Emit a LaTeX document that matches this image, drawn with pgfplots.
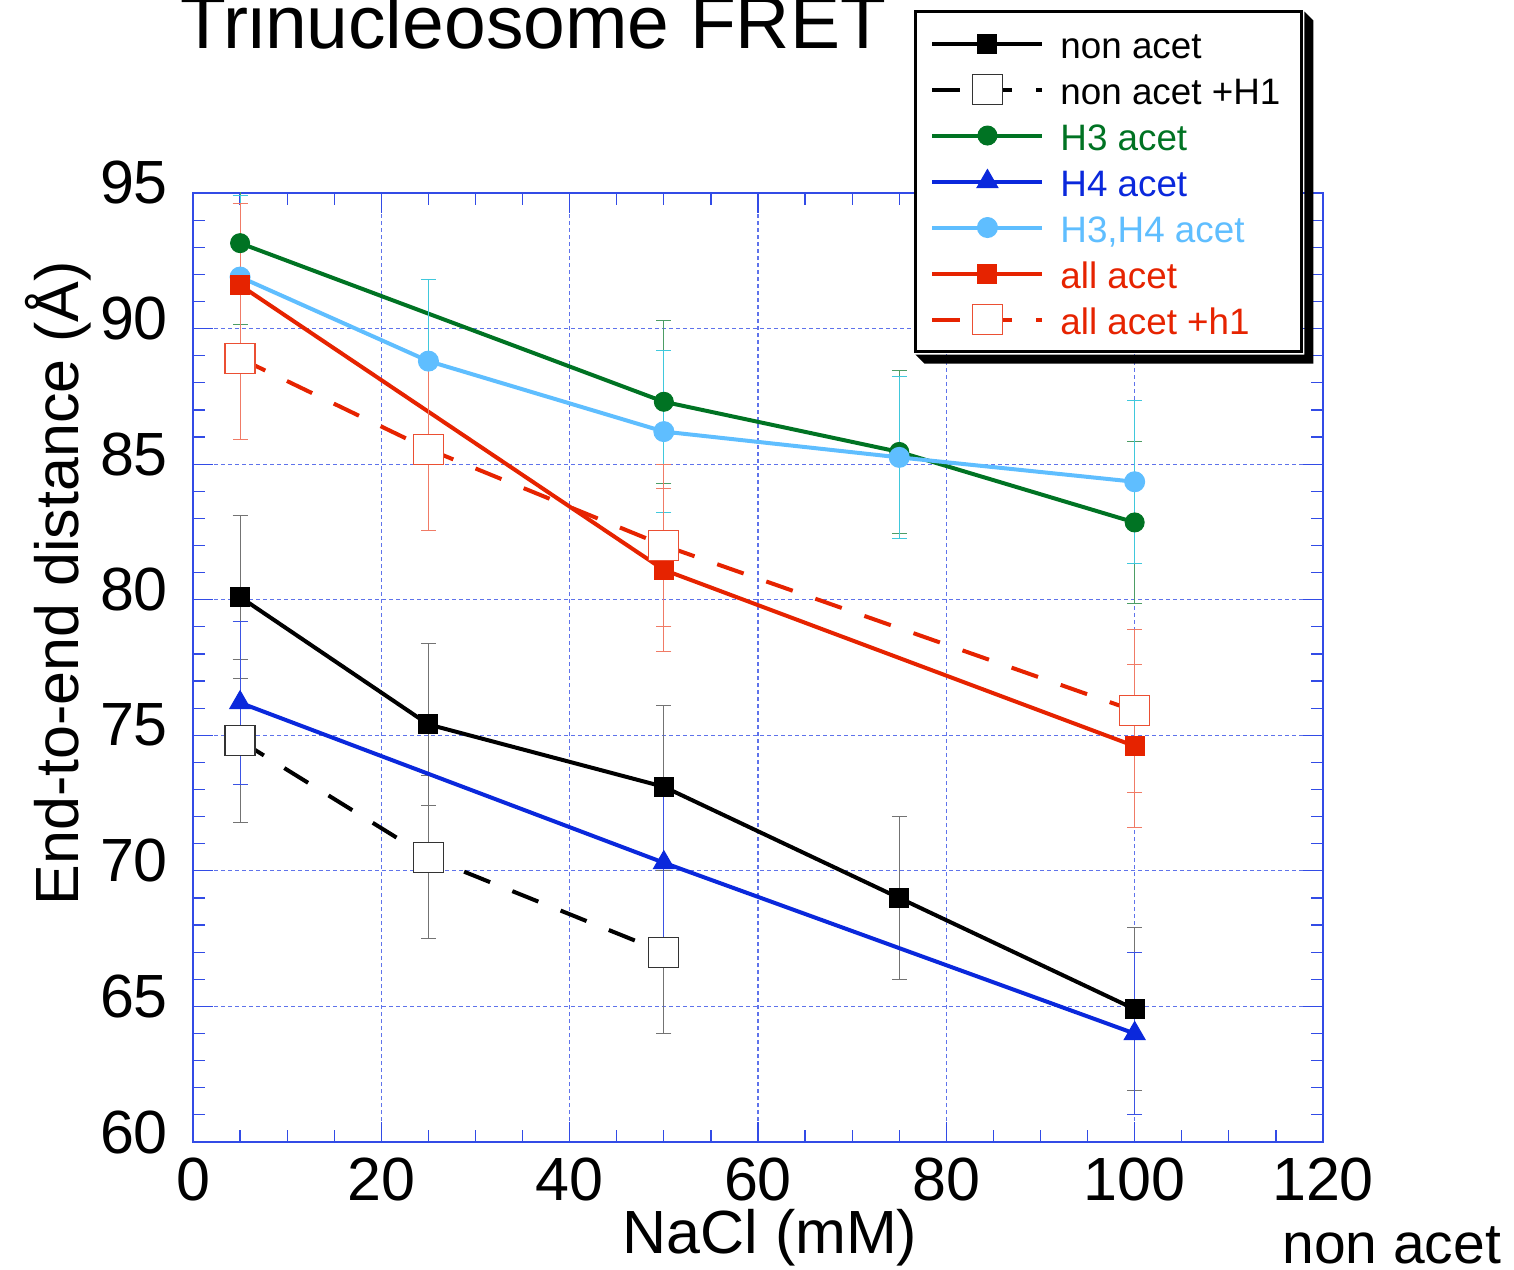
\documentclass[border=0pt]{standalone}
\usepackage{pgfplots}
\pgfplotsset{compat=1.18}
\usepackage{pgfplotstable}
\usepackage{fontspec}
\setmainfont{Liberation Sans}
\definecolor{cgreen}{RGB}{0,115,35}
\definecolor{cblue}{RGB}{10,40,220}
\definecolor{clblue}{RGB}{95,190,255}
\definecolor{cred}{RGB}{230,35,0}
\definecolor{ccyan}{RGB}{64,200,220}
\definecolor{axblue}{RGB}{50,75,230}
\definecolor{gridblue}{RGB}{95,115,235}

\pgfplotstableread{
x y e
5 80.1 3
25 75.4 3
50 73.1 3
75 69.0 3
100 64.9 3
}\nonacet
\pgfplotstableread{
x y e
5 74.8 3
25 70.5 3
50 67.0 3
}\nonacetH
\pgfplotstableread{
x y e
5 93.15 3
50 87.3 3
75 85.45 3
100 82.85 3
}\hthree
\pgfplotstableread{
x y e
5 76.2 3
50 70.3 3
100 64.0 3
}\hfour
\pgfplotstableread{
x y e
5 91.9 3
25 88.8 3
50 86.2 3
75 85.25 3
100 84.35 3
}\hboth
\pgfplotstableread{
x y e
5 91.6 3
50 81.1 3
100 74.6 3
}\allacet
\pgfplotstableread{
x y e
5 88.9 3
25 85.55 3
50 82.0 3
100 75.9 3
}\allacetH

\begin{document}
\begin{tikzpicture}
\path[use as bounding box] (-96.5pt,-63.5pt) rectangle (660.5pt,571pt);
\begin{axis}[
  scale only axis, width=565pt, height=474.5pt,
  xmin=0, xmax=120, ymin=60, ymax=95,
  xtick={0,20,...,120}, ytick={60,65,...,95},
  minor x tick num=3, minor y tick num=4,
  tick align=inside,
  major tick length=10pt, minor tick length=6pt,
  every tick/.style={color=axblue, line width=0.6pt},
  axis line style={color=axblue, line width=0.8pt},
  grid=major,
  major grid style={color=gridblue, dash pattern=on 2pt off 1.5pt, line width=0.6pt},
  tick label style={font=\fontsize{30.5}{32}\selectfont, color=black},
  /pgf/number format/assume math mode=true,
  xticklabel style={anchor=base, yshift=-29pt},
  yticklabel style={anchor=east, xshift=-9pt, yshift=5pt},
  xlabel={NaCl (mM)},
  xlabel style={at={(axis description cs:0.5106,-0.117)}, anchor=base, inner sep=0pt, font=\fontsize{30.5}{32}\selectfont},
  ylabel={End-to-end distance (Å)},
  ylabel style={at={(axis description cs:-0.1017,0.589)}, anchor=base, inner sep=0pt, font=\fontsize{30.5}{32}\selectfont},
  legend cell align=left,
  legend image code/.code={\draw[mark repeat=2,mark phase=2,#1] plot coordinates {(0pt,0pt) (27.5pt,0pt) (55pt,0pt)};},
  legend style={
    name=leg,
    at={(axis description cs:0.638,1.1928)}, anchor=north west,
    draw=black, line width=1.5pt, fill=white,
    font=\fontsize{18.4}{22}\selectfont,
    inner xsep=7.5pt, inner ysep=4.5pt,
    row sep=0pt, column sep=5pt,
    nodes={inner sep=3pt, text height=16pt, text depth=1pt},
  },
  error bars/y dir=both,
  error bars/y explicit,
]
\addplot[black, line width=2pt, mark=square*, mark size=4.75pt,
  mark options={solid, fill=black, draw=black, line width=0.5pt},
  error bars/error bar style={solid, line width=0.5pt, black!55},
  error bars/error mark options={rotate=90, black!55, mark size=3.75pt, line width=0.5pt}]
  table[x=x, y=y, y error=e] {\nonacet};
\addlegendentry{non acet}
\addplot[black, line width=2pt, dash pattern=on 14pt off 12pt, mark=square*, mark size=7.5pt,
  mark options={solid, fill=white, draw=black!80, line width=0.6pt},
  error bars/error bar style={solid, line width=0.5pt, black!55},
  error bars/error mark options={rotate=90, black!55, mark size=3.75pt, line width=0.5pt}]
  table[x=x, y=y, y error=e] {\nonacetH};
\addlegendentry{non acet +H1}
\addplot[cgreen, line width=2pt, mark=*, mark size=4.75pt,
  mark options={solid, fill=cgreen, draw=cgreen, line width=0.5pt},
  error bars/error bar style={solid, line width=0.5pt, cgreen!70},
  error bars/error mark options={rotate=90, cgreen!70, mark size=3.75pt, line width=0.5pt}]
  table[x=x, y=y, y error=e] {\hthree};
\addlegendentry{\textcolor{cgreen}{H3 acet}}
\addplot[cblue, line width=2pt, mark=triangle*, mark size=6pt,
  mark options={solid, fill=cblue, draw=cblue, line width=0.5pt},
  error bars/error bar style={solid, line width=0.5pt, cblue!80},
  error bars/error mark options={rotate=90, cblue!80, mark size=3.75pt, line width=0.5pt}]
  table[x=x, y=y, y error=e] {\hfour};
\addlegendentry{\textcolor{cblue}{H4 acet}}
\addplot[clblue, line width=2pt, mark=*, mark size=5pt,
  mark options={solid, fill=clblue, draw=clblue, line width=0.5pt},
  error bars/error bar style={solid, line width=0.5pt, ccyan},
  error bars/error mark options={rotate=90, ccyan, mark size=3.75pt, line width=0.5pt}]
  table[x=x, y=y, y error=e] {\hboth};
\addlegendentry{\textcolor{clblue}{H3,H4 acet}}
\addplot[cred, line width=2pt, mark=square*, mark size=4.75pt,
  mark options={solid, fill=cred, draw=cred, line width=0.5pt},
  error bars/error bar style={solid, line width=0.5pt, cred!60},
  error bars/error mark options={rotate=90, cred!60, mark size=3.75pt, line width=0.5pt}]
  table[x=x, y=y, y error=e] {\allacet};
\addlegendentry{\textcolor{cred}{all acet}}
\addplot[cred, line width=2pt, dash pattern=on 14pt off 12pt, mark=square*, mark size=7.5pt,
  mark options={solid, fill=white, draw=cred!80, line width=0.6pt},
  error bars/error bar style={solid, line width=0.5pt, cred!60},
  error bars/error mark options={rotate=90, cred!60, mark size=3.75pt, line width=0.5pt}]
  table[x=x, y=y, y error=e] {\allacetH};
\addlegendentry{\textcolor{cred}{all acet +h1}}
\end{axis}
\fill[black] ([shift={(0.75pt,-0.75pt)}]leg.north east) -- ++(4.5pt,-4.5pt)
  -- ([shift={(5.25pt,-5.25pt)}]leg.south east) -- ([shift={(5.25pt,-5.25pt)}]leg.south west)
  -- ([shift={(0.75pt,-0.75pt)}]leg.south west) -- ([shift={(0.75pt,-0.75pt)}]leg.south east) -- cycle;
\node[anchor=base west, inner sep=0pt, font=\fontsize{37.5}{40}\selectfont] at (-6.5pt,546.5pt) {Trinucleosome FRET};
\node[anchor=base west, inner sep=0pt, font=\fontsize{28.5}{32}\selectfont] at (544.5pt,-60.5pt) {non acet};
\end{tikzpicture}
\end{document}
